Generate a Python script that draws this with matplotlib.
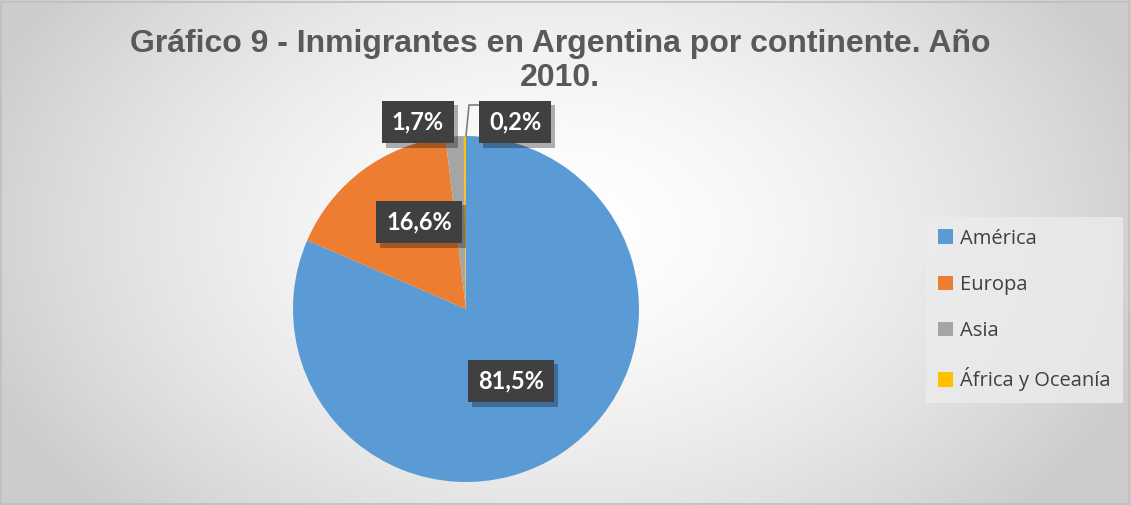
import numpy as np
import matplotlib
matplotlib.use("Agg")
import matplotlib.pyplot as plt
import matplotlib.patheffects as pe
from matplotlib.patches import Rectangle

categories = ["América", "Europa", "Asia", "África y Oceanía"]
values = [81.5, 16.6, 1.7, 0.2]
labels = ["81,5%", "16,6%", "1,7%", "0,2%"]
colors = ["#5b9bd5", "#ed7d31", "#a5a5a5", "#ffc000"]
title = "Gráfico 9 - Inmigrantes en Argentina por continente. Año\n2010."

W, H = 1131, 505
fig = plt.figure(figsize=(W / 100, H / 100), dpi=100)

# radial gradient background
bg = fig.add_axes([0, 0, 1, 1])
yy, xx = np.mgrid[0:H, 0:W]
cx, cy = 560, 230
r = np.sqrt(((xx - cx) / 620.0) ** 2 + ((yy - cy) / 420.0) ** 2)
r = np.clip(r, 0, 1)
shade = 1.0 - 0.20 * r ** 1.6
img = np.dstack([shade, shade, shade])
bg.imshow(img, extent=[0, W, 0, H], origin="upper", aspect="auto")
bg.set_xlim(0, W)
bg.set_ylim(0, H)
bg.axis("off")
bg.add_patch(Rectangle((1, 1), W - 3, H - 3, fill=False, edgecolor="#bfbfbf", lw=1.2))

# pie
R = 173
pcx, pcy = 466, 309
ax = fig.add_axes([(pcx - R) / W, (H - pcy - R) / H, 2 * R / W, 2 * R / H])
ax.set_facecolor("none")
wedges, _ = ax.pie(values, colors=colors, startangle=90, counterclock=False,
                   radius=1, wedgeprops=dict(linewidth=0))
ax.set_xlim(-1, 1)
ax.set_ylim(-1, 1)
ax.set_aspect("equal")
ax.axis("off")

tk = dict(color="white", fontsize=17, fontweight="bold", family=["Lato", "DejaVu Sans"],
          ha="center", va="center", clip_on=False, zorder=5)

# label positions (data coords, radius 1 = pie radius)
pos = [(45 / R, -72 / R), (-47 / R, 87 / R), (-48 / R, 187 / R), (49 / R, 187 / R)]
for lab, (x, y) in zip(labels, pos):
    t = ax.text(x, y, lab, bbox=dict(boxstyle="square,pad=0.42", facecolor="#404040",
                                     edgecolor="none"), **tk)
    t.get_bbox_patch().set_path_effects([
        pe.SimplePatchShadow(offset=(3, -3), shadow_rgbFace="#000000", alpha=0.3),
        pe.Normal()])

# leader line for 0,2%
ax.plot([0.0, 3 / R, 15 / R], [1.0, 204 / R, 204 / R], color="#7f7f7f", lw=1.2, clip_on=False)

fig.text(560 / W, 1 - 61 / H, title, ha="center", va="center", fontsize=23,
         fontweight="bold", color="#595959", family=["Liberation Sans", "DejaVu Sans"],
         linespacing=1.2)

leg = fig.legend(wedges, categories, loc="center left", bbox_to_anchor=(926 / W, 1 - 310 / H),
                 frameon=True, prop={"family": ["Open Sans", "DejaVu Sans"], "size": 14.5},
                 handlelength=0.75, handleheight=0.75, handletextpad=0.35, labelspacing=1.3,
                 borderpad=0.6, borderaxespad=0, fancybox=False)
leg.get_frame().set_facecolor("#ececec")
leg.get_frame().set_edgecolor("none")
for t in leg.get_texts():
    t.set_color("#404040")

fig.savefig("out.png", dpi=100)
